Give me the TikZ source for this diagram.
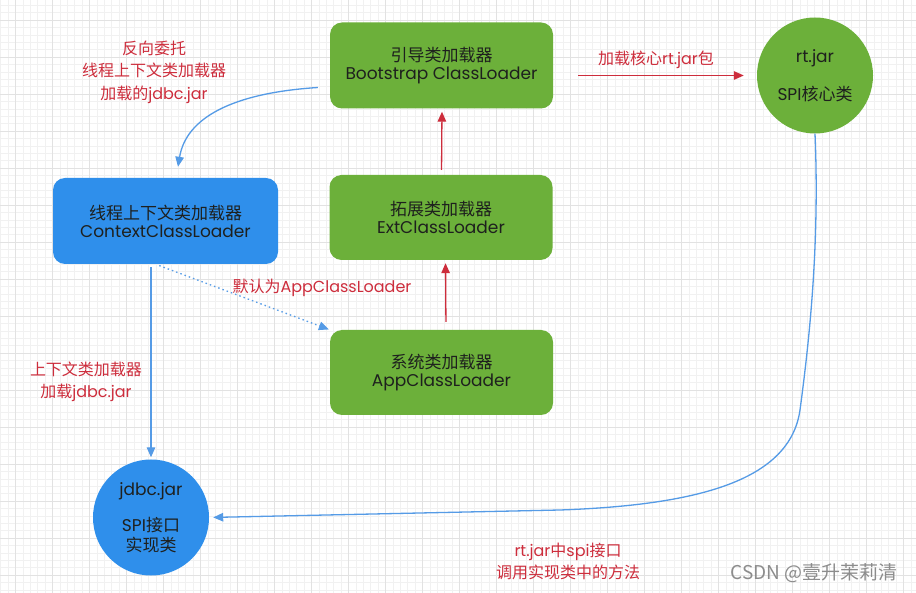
\documentclass[tikz,border=0pt]{standalone}
\usepackage{fontspec}
\setmainfont{Poppins}
\newfontfamily\cjk{Noto Sans CJK SC}
\newcommand\zh[1]{{\cjk #1}}
\usetikzlibrary{arrows.meta,calc}
\definecolor{boxgreen}{RGB}{108,176,58}
\definecolor{boxblue}{RGB}{47,143,235}
\definecolor{labred}{RGB}{205,45,60}
\definecolor{lineblue}{RGB}{85,155,230}
\definecolor{txtdark}{RGB}{30,32,30}
\definecolor{gridminor}{RGB}{241,241,241}
\definecolor{gridmajor}{RGB}{226,226,226}
\tikzset{
  greenbox/.style={rectangle, rounded corners=12pt, fill=boxgreen, draw=none,
    minimum width=223pt, minimum height=86pt, align=center, text=txtdark,
    font=\fontsize{17}{18}\selectfont},
  bluebox/.style={greenbox, fill=boxblue},
  greencirc/.style={circle, fill=boxgreen, draw=none, minimum size=116pt,
    inner sep=0pt, align=center, text=txtdark, font=\fontsize{17}{19.5}\selectfont},
  bluecirc/.style={greencirc, fill=boxblue},
  redlab/.style={text=labred, align=center, font=\fontsize{16}{22.5}\selectfont},
  redarr/.style={draw=labred, line width=1.3pt, -{Triangle[length=10pt,width=8.5pt]}},
  bluearr/.style={draw=lineblue, line width=1.3pt, -{Triangle[length=10pt,width=8.5pt]}},
}
\begin{document}
\begin{tikzpicture}[x=1pt,y=-1pt]
\useasboundingbox (0,0) rectangle (916,593);
\fill[white] (0,0) rectangle (916,593);
\foreach \i in {0,...,124} {\draw[gridminor,line width=0.4pt] (0.6+7.4*\i,0) -- (0.6+7.4*\i,593);}
\foreach \i in {0,...,80} {\draw[gridminor,line width=0.4pt] (0,5.2+7.4*\i) -- (916,5.2+7.4*\i);}
\foreach \i in {0,...,24} {\draw[gridmajor,line width=0.6pt] (15+37*\i,0) -- (15+37*\i,593);}
\foreach \i in {0,...,16} {\draw[gridmajor,line width=0.6pt] (0,20+37*\i) -- (916,20+37*\i);}

\node[greenbox] (boot) at (441.5,65.5) {\zh{引导类加载器}\\Bootstrap ClassLoader};
\node[greenbox, minimum height=85pt] (ext) at (441,217.5) {\zh{拓展类加载器}\\ExtClassLoader};
\node[greenbox, minimum height=85pt] (app) at (441.5,372.5) {\zh{系统类加载器}\\AppClassLoader};
\node[bluebox, minimum width=225pt] (ctx) at (165.5,221) {\zh{线程上下文类加载器}\\ContextClassLoader};
\node[greencirc] (rt) at (815,75.5) {rt.jar\\[19pt]SPI\zh{核心类}};
\node[bluecirc] (jdbc) at (151,517.5) {jdbc.jar\\[17pt]SPI\zh{接口}\\\zh{实现类}};

\node[redlab] (l1) at (154,72) {\zh{反向委托}\\\zh{线程上下文类加载器}\\\zh{加载的}jdbc.jar};
\node[redlab] (l2) at (656,60) {\zh{加载核心}rt.jar\zh{包}};
\node[redlab] (l3) at (322,288) {\zh{默认为}AppClassLoader};
\node[redlab] (l4) at (86,382) {\zh{上下文类加载器}\\\zh{加载}jdbc.jar};
\node[redlab] (l5) at (568,561.5) {rt.jar\zh{中}spi\zh{接口}\\\zh{调用实现类中的方法}};
\node[text=black!45, font=\cjk\fontsize{19}{20}\selectfont, anchor=east] (wm) at (901,573) {CSDN @壹升茉莉清};

\draw[redarr, shorten <=8pt, shorten >=3pt] ([xshift=4.5pt]app.north) -- ([xshift=4.5pt]ext.south);
\draw[redarr, shorten <=5pt, shorten >=3pt] ([xshift=0.5pt]ext.north) -- ([xshift=0.5pt]boot.south);
\draw[redarr, shorten <=25pt, shorten >=13pt] (boot.east |- rt.west) -- (rt.west);

\draw[bluearr] ([xshift=-12pt,yshift=-22pt]boot.west) .. controls (232,93) and (186,118) .. ([xshift=12.5pt,yshift=11pt]ctx.north);
\draw[bluearr, shorten <=3pt, shorten >=2pt] (jdbc.north |- ctx.south) -- (jdbc.north);
\draw[bluearr, dash pattern=on 1.5pt off 3pt, shorten <=4pt, shorten >=1pt] ([xshift=-10pt]ctx.south) -- (app.north west);
\draw[bluearr, shorten >=4pt] (rt.south) .. controls (820,250) and (808,350) .. (800,410) .. controls (790,480) and (700,505) .. (560,510) -- (jdbc.east);
\end{tikzpicture}
\end{document}
